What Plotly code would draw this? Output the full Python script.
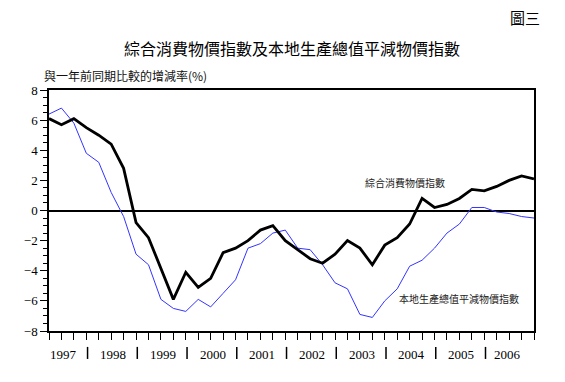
import plotly.graph_objects as go

# Quarterly data, 1997 Q1 .. 2006 Q4 (40 quarters)
quarters = list(range(40))
cpi = [6.1, 5.7, 6.1, 5.5, 5.0, 4.4, 2.8, -0.8, -1.8, -3.9,
       -5.9, -4.1, -5.1, -4.5, -2.8, -2.5, -2.0, -1.3, -1.0, -2.0,
       -2.6, -3.2, -3.5, -2.9, -2.0, -2.5, -3.6, -2.3, -1.8, -0.9,
       0.8, 0.2, 0.4, 0.8, 1.4, 1.3, 1.6, 2.0, 2.3, 2.1]
gdp_deflator = [6.4, 6.8, 5.8, 3.8, 3.2, 1.2, -0.4, -2.9, -3.6, -5.9,
                -6.5, -6.7, -5.9, -6.4, -5.5, -4.6, -2.5, -2.2, -1.5, -1.3,
                -2.5, -2.6, -3.6, -4.8, -5.2, -6.9, -7.1, -6.0, -5.2, -3.7,
                -3.3, -2.5, -1.5, -0.9, 0.2, 0.2, -0.1, -0.2, -0.4, -0.5]
years = ["1997", "1998", "1999", "2000", "2001", "2002", "2003", "2004", "2005", "2006"]
y_ticks = [-8, -6, -4, -2, 0, 2, 4, 6, 8]

title_text = "綜合消費物價指數及本地生產總值平減物價指數"
chart_no = "圖三"
y_title = "與一年前同期比較的增減率(%)"
cpi_label = "綜合消費物價指數"
gdp_label = "本地生產總值平減物價指數"

CJK = "Noto Sans CJK TC"
SERIF = "Liberation Serif"

fig = go.Figure()
fig.add_trace(go.Scatter(x=quarters, y=gdp_deflator, mode="lines",
                         line=dict(color="#3434ff", width=1), showlegend=False))
fig.add_trace(go.Scatter(x=quarters, y=cpi, mode="lines",
                         line=dict(color="black", width=2.8), showlegend=False))

# page body has an 8px margin, so the figure is 8px smaller and margins shifted
fig.update_layout(
    width=557, height=374,
    margin=dict(l=41, r=31, t=82, b=51),
    paper_bgcolor="white", plot_bgcolor="white",
    showlegend=False,
    xaxis=dict(range=[0, 39], tickmode="array", tickvals=quarters,
               showticklabels=False, ticks="outside", ticklen=7, tickwidth=1.3,
               tickcolor="black", showgrid=False, zeroline=False,
               showline=True, linecolor="black", linewidth=1.5, mirror=True),
    yaxis=dict(range=[-8, 8], tickmode="array", tickvals=y_ticks,
               ticks="outside", ticklen=7, tickwidth=1.3, tickcolor="black",
               minor=dict(dtick=0.5, ticks="outside", ticklen=4, tickcolor="black", tickwidth=1),
               tickfont=dict(family=SERIF, size=13, color="black"),
               showgrid=False, zeroline=True, zerolinecolor="black", zerolinewidth=1.5,
               showline=True, linecolor="black", linewidth=1.5, mirror=True),
)

annotations = []
for k, yr in enumerate(years):
    xpos = 4 * k + 1.15 if k < len(years) - 1 else 36.9
    annotations.append(dict(x=xpos, y=0, xref="x", yref="paper", text=yr,
                            showarrow=False, yanchor="top", yshift=-14,
                            font=dict(family=SERIF, size=13, color="black")))
shapes = []
for k in range(len(years) - 1):
    xs = 4 * k + 3.1
    shapes.append(dict(type="line", xref="x", yref="paper", x0=xs, x1=xs,
                       y0=-0.066, y1=-0.116, line=dict(color="black", width=1.5)))

annotations += [
    dict(x=0.501, y=1.174, xref="paper", yref="paper", text=title_text, showarrow=False,
         font=dict(family=CJK, size=16, color="black"), xanchor="center", yanchor="middle"),
    dict(x=0.981, y=1.299, xref="paper", yref="paper", text=chart_no, showarrow=False,
         font=dict(family=CJK, size=15, color="black"), xanchor="center", yanchor="middle"),
    dict(x=-0.0144, y=1.062, xref="paper", yref="paper", text=y_title, showarrow=False,
         font=dict(family=CJK, size=12, color="#111"), xanchor="left", yanchor="middle"),
    dict(x=28.66, y=1.86, xref="x", yref="y", text=cpi_label, showarrow=False,
         font=dict(family=CJK, size=10, color="#222"), xanchor="center", yanchor="middle"),
    dict(x=32.96, y=-5.84, xref="x", yref="y", text=gdp_label, showarrow=False,
         font=dict(family=CJK, size=10, color="#222"), xanchor="center", yanchor="middle"),
]
fig.update_layout(annotations=annotations, shapes=shapes)

fig.write_html("out.html")
